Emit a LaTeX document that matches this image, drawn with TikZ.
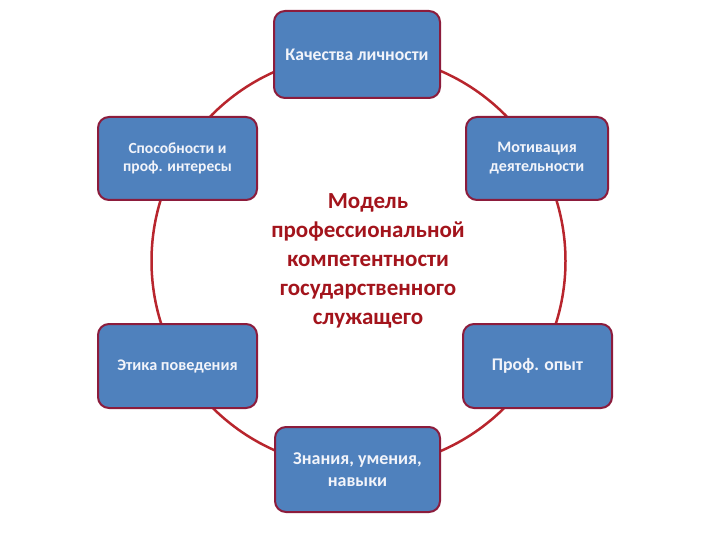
\documentclass[tikz,border=0pt]{standalone}
\usepackage{fontspec}
\setmainfont{Carlito}
\definecolor{boxblue}{HTML}{4F81BD}
\definecolor{boxborder}{HTML}{8C1C3C}
\definecolor{ringred}{HTML}{B8252D}
\definecolor{titlered}{HTML}{A3141C}
\definecolor{cardtext}{HTML}{F2F4FA}
\newcommand{\cardfont}[1]{\bfseries\fontsize{#1}{1.2\dimexpr#1pt\relax}\selectfont}
\begin{document}
\begin{tikzpicture}[x=1pt,y=-1pt,
  card/.style={draw=boxborder, line width=2pt, fill=boxblue, rounded corners=11pt,
    text=cardtext, align=center, inner sep=0pt},
  ring/.style={draw=ringred, line width=2.5pt}]
\useasboundingbox (0,0) rectangle (720,540);
\coordinate (c) at (358.5,261);
\draw[ring] (c) circle (207);
\node[card, font=\cardfont{17.7}, minimum width=166pt, minimum height=87pt] (top) at (357,54.5) {Качества личности};
\node[card, font=\cardfont{15.5}, minimum width=159pt, minimum height=83pt] (ul) at (177.5,158.5) {Способности и\\проф. интересы};
\node[card, font=\cardfont{16}, minimum width=142pt, minimum height=83pt] (ur) at (537,158.5) {Мотивация\\деятельности};
\node[card, font=\cardfont{16.2}, minimum width=159pt, minimum height=84pt] (ll) at (177.5,366) {Этика поведения};
\node[card, font=\cardfont{17.8}, minimum width=149pt, minimum height=84pt] (lr) at (537.5,366) {Проф. опыт};
\node[card, font=\cardfont{18}, minimum width=165pt, minimum height=85pt] (bot) at (357.5,469.5) {Знания, умения,\\навыки};
\node[text=titlered, font=\bfseries\fontsize{23}{29}\selectfont, align=center] (title) at (368,261) {Модель\\профессиональной\\компетентности\\государственного\\служащего};
\end{tikzpicture}
\end{document}
